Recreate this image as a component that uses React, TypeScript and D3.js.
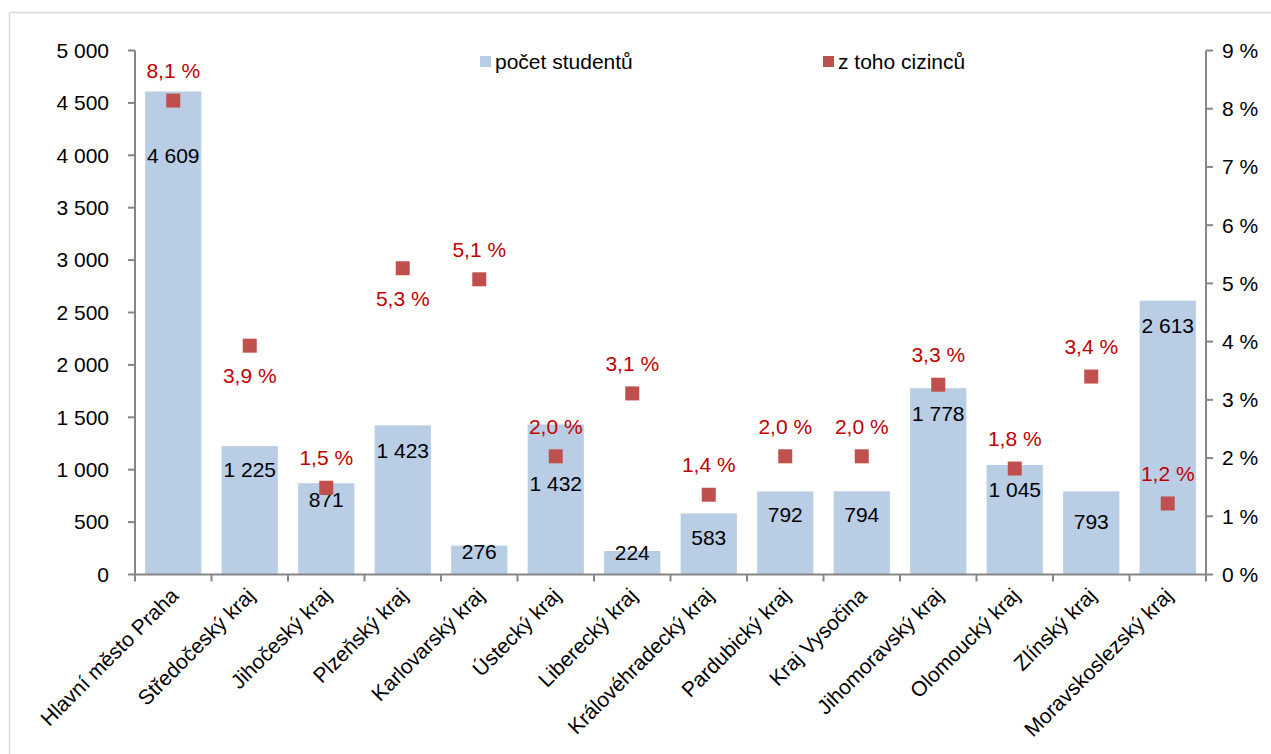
import React from "react";
import * as d3 from "d3";

const categories = [
  "Hlavní město Praha",
  "Středočeský kraj",
  "Jihočeský kraj",
  "Plzeňský kraj",
  "Karlovarský kraj",
  "Ústecký kraj",
  "Liberecký kraj",
  "Královéhradecký kraj",
  "Pardubický kraj",
  "Kraj Vysočina",
  "Jihomoravský kraj",
  "Olomoucký kraj",
  "Zlínský kraj",
  "Moravskoslezský kraj",
];
const students = [4609, 1225, 871, 1423, 276, 1432, 224, 583, 792, 794, 1778, 1045, 793, 2613];
const foreignShare = [8.14, 3.93, 1.49, 5.26, 5.07, 2.03, 3.11, 1.37, 2.03, 2.03, 3.26, 1.82, 3.4, 1.22];
const foreignLabels = ["8,1 %", "3,9 %", "1,5 %", "5,3 %", "5,1 %", "2,0 %", "3,1 %", "1,4 %", "2,0 %", "2,0 %", "3,3 %", "1,8 %", "3,4 %", "1,2 %"];
const leftTicks = [0, 500, 1000, 1500, 2000, 2500, 3000, 3500, 4000, 4500, 5000];
const rightTicks = [0, 1, 2, 3, 4, 5, 6, 7, 8, 9];
const legendLabels = ["počet studentů", "z toho cizinců"];

// label placement (layout only)
const pctLabelSide = ["above", "below", "above", "below", "above", "above", "above", "above", "above", "above", "above", "above", "above", "above"];
const barLabelDy = [64, 24, 16, 25, 6, 59, 2, 24, 23, 23, 25, 25, 30, 25];

const W = 1271;
const H = 754;
const M = { left: 135, right: 1206, top: 50.5, bottom: 574.5 };
const FONT = "'Liberation Sans', Arial, sans-serif";
const FS = 21;

const fmt = (v: number) => d3.format(",")(v).replace(/,/g, " ");

export default function App() {
  const band = (M.right - M.left) / categories.length;
  const cx = (i: number) => M.left + band * (i + 0.5);
  const bw = band * 0.735;
  const yL = d3.scaleLinear().domain([0, 5000]).range([M.bottom, M.top]);
  const yR = d3.scaleLinear().domain([0, 9]).range([M.bottom, M.top]);
  const axisColor = "#868686";

  return (
    <svg width={W} height={H} style={{ position: "absolute", left: 0, top: 0, background: "#fff" }} fontFamily={FONT}>
      <path d={`M9.5,${H}V12.5H${W}`} fill="none" stroke="#d9d9d9" strokeWidth={1.5} />
      {/* bars */}
      {students.map((v, i) => (
        <rect key={"b" + i} x={cx(i) - bw / 2} y={yL(v)} width={bw} height={M.bottom - yL(v)} fill="#B9CDE5" />
      ))}
      {/* axes */}
      <line x1={M.left} x2={M.left} y1={M.top} y2={M.bottom} stroke={axisColor} strokeWidth={2} />
      <line x1={M.right} x2={M.right} y1={M.top} y2={M.bottom} stroke={axisColor} strokeWidth={2} />
      <line x1={M.left} x2={M.right} y1={M.bottom} y2={M.bottom} stroke={axisColor} strokeWidth={2} />
      {leftTicks.map((t) => (
        <g key={"l" + t}>
          <line x1={M.left - 7} x2={M.left} y1={yL(t)} y2={yL(t)} stroke={axisColor} strokeWidth={2} />
          <text x={109} y={yL(t)} dy="0.35em" textAnchor="end" fontSize={FS} fill="#000">{fmt(t)}</text>
        </g>
      ))}
      {rightTicks.map((t) => (
        <g key={"r" + t}>
          <line x1={M.right} x2={M.right + 7} y1={yR(t)} y2={yR(t)} stroke={axisColor} strokeWidth={2} />
          <text x={1222} y={yR(t)} dy="0.35em" textAnchor="start" fontSize={FS} fill="#000">{t + " %"}</text>
        </g>
      ))}
      {d3.range(categories.length + 1).map((i) => (
        <line key={"xt" + i} x1={M.left + band * i} x2={M.left + band * i} y1={M.bottom} y2={M.bottom + 7} stroke={axisColor} strokeWidth={2} />
      ))}
      {/* category labels */}
      {categories.map((c, i) => (
        <text key={"c" + i} transform={`translate(${cx(i) - 4},${M.bottom + 12}) rotate(-45)`} textAnchor="end" dy="0.7em" fontSize={FS} fill="#000">{c}</text>
      ))}
      {/* bar value labels */}
      {students.map((v, i) => (
        <text key={"bl" + i} x={cx(i)} y={yL(v) + barLabelDy[i]} dy="0.35em" textAnchor="middle" fontSize={FS} fill="#000">{fmt(v)}</text>
      ))}
      {/* markers */}
      {foreignShare.map((v, i) => (
        <rect key={"m" + i} x={cx(i) - 7} y={yR(v) - 7} width={14} height={14} fill="#C0504D" />
      ))}
      {foreignShare.map((v, i) => (
        <text key={"ml" + i} x={cx(i)} y={yR(v) + (pctLabelSide[i] === "above" ? -30 : 30)} dy="0.35em" textAnchor="middle" fontSize={FS} fill="#C00000">{foreignLabels[i]}</text>
      ))}
      {/* legend */}
      <rect x={480} y={56} width={11} height={11} fill="#B9CDE5" />
      <text x={495} y={61.5} dy="0.35em" fontSize={FS} fill="#000">{legendLabels[0]}</text>
      <rect x={823} y={56} width={11} height={11} fill="#C0504D" />
      <text x={838} y={61.5} dy="0.35em" fontSize={FS} fill="#000">{legendLabels[1]}</text>
    </svg>
  );
}
